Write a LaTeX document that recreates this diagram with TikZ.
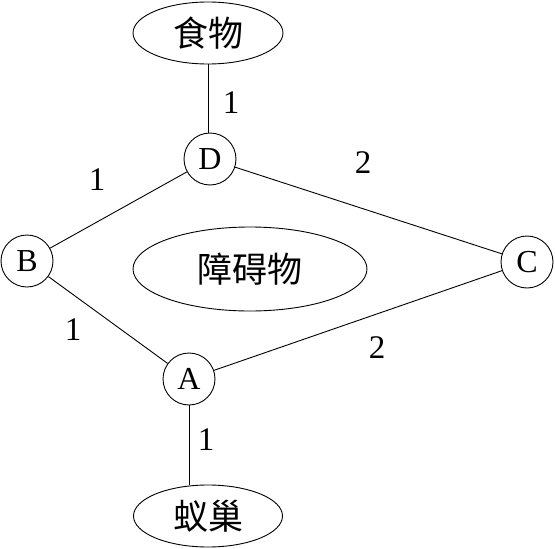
\documentclass[tikz,border=0pt]{standalone}
\usepackage{fontspec}
\setmainfont{Liberation Serif}
\newfontfamily\cjk{Noto Sans CJK SC}
\usetikzlibrary{shapes.geometric}
\begin{document}
\begin{tikzpicture}[x=1pt,y=-1pt, line width=0.9pt,
 vtx/.style={circle,draw,minimum size=52pt,inner sep=0pt,font=\fontsize{32}{32}\selectfont},
 place/.style={ellipse,draw,inner sep=0pt,font=\cjk\fontsize{35}{35}\selectfont},
 wt/.style={font=\fontsize{33}{33}\selectfont,inner sep=0pt}]
\useasboundingbox (0,0) rectangle (555,549);
\node[place,minimum width=150pt,minimum height=62pt] (food) at (208,33) {食物};
\node[place,minimum width=234pt,minimum height=84pt] (obs) at (250,269) {障碍物};
\node[place,minimum width=149pt,minimum height=62pt] (nest) at (208,516) {蚁巢};
\node[vtx] (D) at (210,159) {D};
\node[vtx] (B) at (27,261) {B};
\node[vtx] (C) at (527,262) {C};
\node[vtx] (A) at (189,379) {A};
\draw (208,0 |- D.north) -- (208,0 |- food.south);
\draw (A.south) -- (A.south |- nest.north);
\draw (D) -- (B);
\draw (D) -- (C);
\draw (B) -- (A);
\draw (A) -- (C);
\node[wt] (w1) at (231,103) {1};
\node[wt] (w2) at (97,180) {1};
\node[wt] (w3) at (363,163) {2};
\node[wt] (w4) at (73,330) {1};
\node[wt] (w5) at (377,348) {2};
\node[wt] (w6) at (206,440) {1};
\end{tikzpicture}
\end{document}
